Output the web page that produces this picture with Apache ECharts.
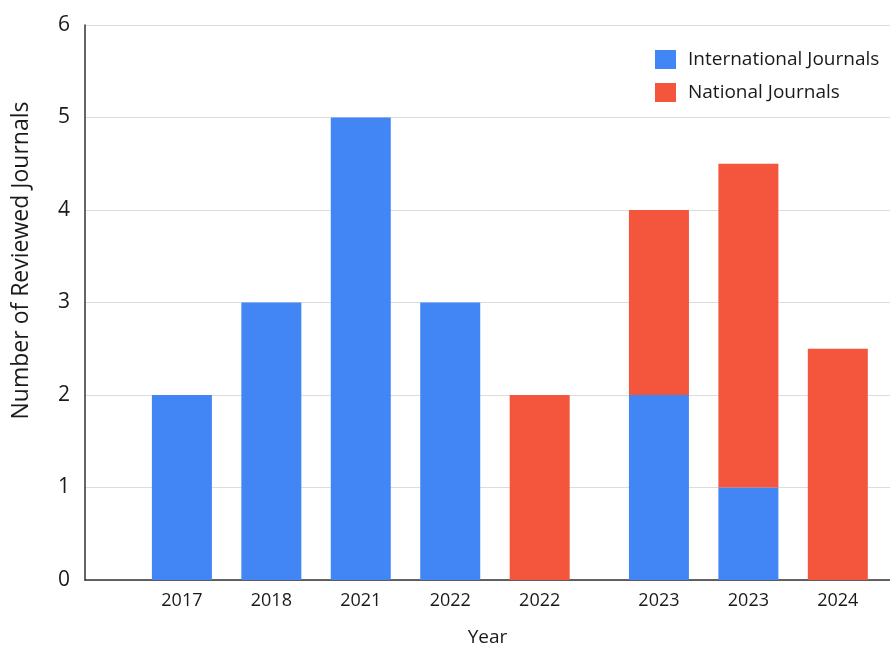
<!DOCTYPE html>
<html>
<head>
<meta charset="utf-8">
<script src="https://cdn.jsdelivr.net/npm/echarts@6/dist/echarts.min.js"></script>
<style>html,body{margin:0;padding:0;background:#fff}#c{width:890px;height:649px}</style>
</head>
<body>
<div id="c"></div>
<script>
// ---- data ----
var years = ['2017', '2018', '2021', '2022', '2022', '2023', '2023', '2024'];
var international = [2, 3, 5, 3, null, 2, 1, null];
var national = [null, null, null, null, 2, 2, 3.5, 2.5];
var yTicks = [0, 1, 2, 3, 4, 5, 6];

// ---- layout: bars sit on slots of a fine category axis (uneven spacing in the original) ----
var slotCount = 54;
var slotOf = [6, 12, 18, 24, 30, 38, 44, 50];

var cats = [], intlData = [], natlData = [];
for (var s = 0; s < slotCount; s++) { cats.push(''); intlData.push('-'); natlData.push('-'); }
years.forEach(function (y, i) {
  var k = slotOf[i];
  cats[k] = y;
  intlData[k] = international[i] == null ? '-' : international[i];
  natlData[k] = national[i] == null ? '-' : national[i];
});

var FONT = '"Open Sans", "Noto Sans", sans-serif';
var chart = echarts.init(document.getElementById('c'), null, { renderer: 'canvas' });
chart.setOption({
  animation: false,
  backgroundColor: '#ffffff',
  textStyle: { fontFamily: FONT, color: '#1a1a1a' },
  grid: { left: 85, right: 0, top: 25, bottom: 69, containLabel: false, outerBoundsMode: 'none' },
  legend: {
    orient: 'vertical', left: 650, top: 45,
    itemWidth: 21, itemHeight: 19, itemGap: 14,
    icon: 'rect',
    textStyle: { fontSize: 19, color: '#1a1a1a', fontFamily: FONT, padding: [0, 0, 0, 7] },
    data: ['International Journals', 'National Journals']
  },
  xAxis: {
    type: 'category',
    data: cats,
    name: 'Year', nameLocation: 'middle', nameGap: 48,
    nameTextStyle: { fontSize: 19, color: '#1a1a1a', fontFamily: FONT },
    axisLine: { show: true, lineStyle: { color: '#333', width: 1.5 } },
    axisTick: { show: false },
    axisLabel: { interval: 0, fontSize: 18, color: '#1a1a1a', margin: 12, fontFamily: FONT },
    splitLine: { show: false }
  },
  yAxis: {
    type: 'value', min: yTicks[0], max: yTicks[yTicks.length - 1], interval: 1,
    name: 'Number of Reviewed Journals', nameLocation: 'middle', nameGap: 52,
    nameTextStyle: { fontSize: 23, color: '#1a1a1a', fontFamily: FONT, padding: [0, 0, 0, 84] },
    axisLine: { show: true, lineStyle: { color: '#333', width: 1.5 } },
    axisTick: { show: false },
    axisLabel: { fontSize: 21, color: '#1a1a1a', margin: 15, fontFamily: FONT },
    splitLine: { show: true, lineStyle: { color: '#dcdcdc', width: 1 } }
  },
  series: [
    {
      name: 'International Journals', type: 'bar', stack: 'total',
      data: intlData, barWidth: 60,
      itemStyle: { color: '#4286F5' }
    },
    {
      name: 'National Journals', type: 'bar', stack: 'total',
      data: natlData, barWidth: 60,
      itemStyle: { color: '#F3553D' }
    }
  ]
});
</script>
</body>
</html>
